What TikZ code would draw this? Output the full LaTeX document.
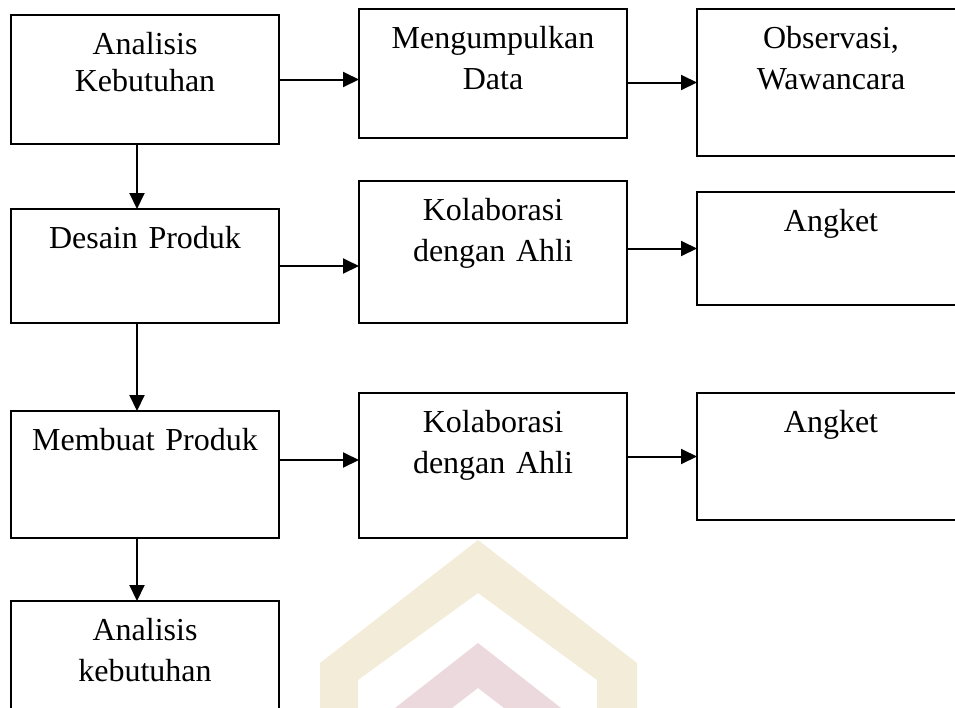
\documentclass[tikz,border=0pt]{standalone}
\usepackage{fontspec}
\setmainfont{Liberation Serif}
\usetikzlibrary{positioning,arrows.meta}
\definecolor{wmkrem}{HTML}{F3ECD9}
\definecolor{wmmerah}{HTML}{ECD9DE}
\tikzset{
  kotak/.style={draw, line width=1pt, rectangle, text width=134pt, align=center,
    inner xsep=0pt, inner ysep=0pt, outer sep=0pt, text height=19.5pt, text depth=#1,
    font=\fontsize{16}{20.5}\selectfont},
  panah/.style={-{Triangle[length=8pt,width=7.5pt]}, line width=1pt},
}
\begin{document}
\begin{tikzpicture}
  \useasboundingbox (0pt,0pt) rectangle (477.5pt,-354pt);
  \clip (0pt,0pt) rectangle (477.5pt,-354pt);
  \fill[wmkrem] (160pt,-354pt) -- (160pt,-331.5pt) -- (239pt,-270pt) -- (318.5pt,-331.5pt)
    -- (318.5pt,-354pt) -- (298.5pt,-354pt) -- (298.5pt,-340pt) -- (239pt,-296.5pt)
    -- (179pt,-340pt) -- (179pt,-354pt) -- cycle;
  \fill[wmmerah] (197.5pt,-354pt) -- (239pt,-321.5pt) -- (280.5pt,-354pt) -- (252pt,-354pt)
    -- (239pt,-344pt) -- (226pt,-354pt) -- cycle;

  \node[kotak=45pt, anchor=north west, font=\fontsize{16}{18.5}\selectfont] (ak) at (5.5pt,-7.5pt) {Analisis\\ Kebutuhan};
  \node[kotak=45pt, right=40pt of ak.north east, anchor=north west, yshift=3pt] (md) {Mengumpulkan\\ Data};
  \node[kotak=54pt, right=35pt of md.north east, anchor=north west] (ow) {Observasi,\\ Wawancara};
  \node[kotak=37.5pt, below=32.5pt of ak] (dp) {Desain Produk};
  \node[kotak=51.5pt, right=40pt of dp.north east, anchor=north west, yshift=14pt] (kd1) {Kolaborasi\\ dengan Ahli};
  \node[kotak=37pt, right=35pt of kd1.north east, anchor=north west, yshift=-5.5pt] (an1) {Angket};
  \node[kotak=44pt, below=44pt of dp] (mp) {Membuat Produk};
  \node[kotak=53pt, right=40pt of mp.north east, anchor=north west, yshift=9pt] (kd2) {Kolaborasi\\ dengan Ahli};
  \node[kotak=44pt, right=35pt of kd2.north east, anchor=north west] (an2) {Angket};
  \node[kotak=50.5pt, below=31.5pt of mp] (ak2) {Analisis\\ kebutuhan};
  \coordinate (kd2in) at ([yshift=2.75pt]kd2.west);

  \draw[panah] (ak.east) -- (ak.east -| md.west);
  \draw[panah] (md.east |- ow.west) -- (ow.west);
  \draw[panah] (dp.east) -- (dp.east -| kd1.west);
  \draw[panah] (kd1.east |- an1.west) -- (an1.west);
  \draw[panah] (mp.east |- kd2in) -- (kd2in);
  \draw[panah] (kd2.east |- an2.west) -- (an2.west);
  \draw[panah] ([xshift=-4pt]ak.south) -- ([xshift=-4pt]dp.north);
  \draw[panah] ([xshift=-4pt]dp.south) -- ([xshift=-4pt]mp.north);
  \draw[panah] ([xshift=-4pt]mp.south) -- ([xshift=-4pt]ak2.north);
\end{tikzpicture}
\end{document}
